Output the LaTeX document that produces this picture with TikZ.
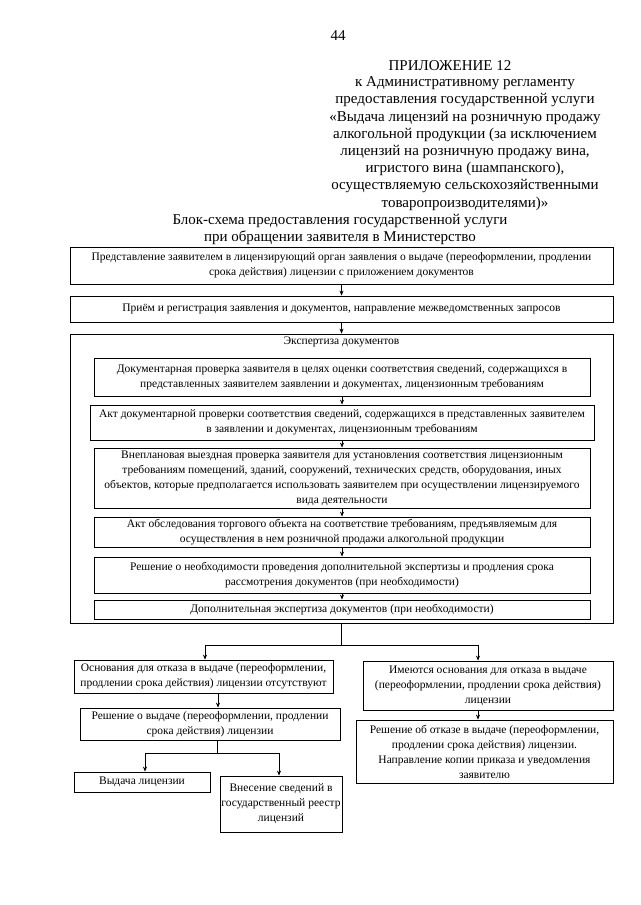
\documentclass[tikz,border=0pt]{standalone}
\usepackage{fontspec}
\setmainfont{Liberation Serif}
\usetikzlibrary{arrows.meta}
\begin{document}
\begin{tikzpicture}[x=1pt,y=-1pt,
  box/.style={draw,line width=0.8pt,inner sep=0pt,align=center,font=\fontsize{11.5}{15}\selectfont},
  arr/.style={-{Stealth[length=5pt,width=4pt]},line width=0.7pt},
  ln/.style={line width=0.7pt},
  hdr/.style={font=\fontsize{15}{17.2}\selectfont,align=center,inner sep=0pt}]
\useasboundingbox (0,0) rectangle (640,905);
\fill[white] (0,0) rectangle (640,905);
% header
\node[hdr] (pg) at (338,36) {44};
\node[hdr] (app) at (450,66) {ПРИЛОЖЕНИЕ 12};
\node[hdr,anchor=north] (reg) at (465,76.5) {к Административному регламенту\\предоставления государственной услуги\\«Выдача лицензий на розничную продажу\\алкогольной продукции (за исключением\\лицензий на розничную продажу вина,\\игристого вина (шампанского),\\осуществляемую сельскохозяйственными\\товаропроизводителями)»};
\node[hdr,anchor=north] (title) at (340,214) {Блок-схема предоставления государственной услуги\\при обращении заявителя в Министерство};
% main boxes
\node[box,minimum width=543,minimum height=37] (b1) at (341.5,265.5) {Представление заявителем в лицензирующий орган заявления о выдаче (переоформлении, продлении\\срока действия) лицензии с приложением документов};
\node[box,minimum width=543,minimum height=26] (b2) at (341.5,309) {Приём и регистрация заявления и документов, направление межведомственных запросов};
\node[box,minimum width=543,minimum height=289] (big) at (341.5,478.5) {};
\node[box,draw=none,anchor=north] (bigt) at (341.5,336.5) {Экспертиза документов};
\node[box,minimum width=496,minimum height=38] (i1) at (342,377) {Документарная проверка заявителя в целях оценки соответствия сведений, содержащихся в\\представленных заявителем заявлении и документах, лицензионным требованиям};
\node[box,minimum width=504,minimum height=35] (i2) at (342,422.5) {Акт документарной проверки соответствия сведений, содержащихся в представленных заявителем\\в заявлении и документах, лицензионным требованиям};
\node[box,minimum width=496,minimum height=60] (i3) at (342,478) {Внеплановая выездная проверка заявителя для установления соответствия лицензионным\\требованиям помещений, зданий, сооружений, технических средств, оборудования, иных\\объектов, которые предполагается использовать заявителем при осуществлении лицензируемого\\вида деятельности};
\node[box,minimum width=496,minimum height=30] (i4) at (342,532) {Акт обследования торгового объекта на соответствие требованиям, предъявляемым для\\осуществления в нем розничной продажи алкогольной продукции};
\node[box,minimum width=496,minimum height=36] (i5) at (342,575) {Решение о необходимости проведения дополнительной экспертизы и продления срока\\рассмотрения документов (при необходимости)};
\node[box,minimum width=496,minimum height=19] (i6) at (342,609.5) {Дополнительная экспертиза документов (при необходимости)};
% lower boxes
\node[box,minimum width=259,minimum height=33] (a) at (203.5,676.5) {Основания для отказа в выдаче (переоформлении,\\продлении срока действия) лицензии отсутствуют};
\node[box,minimum width=260,minimum height=32] (b) at (210,724) {Решение о выдаче (переоформлении, продлении\\срока действия) лицензии};
\node[box,minimum width=136,minimum height=20] (c) at (142,782) {Выдача лицензии};
\node[box,minimum width=122,minimum height=56] (d) at (281,804) {Внесение сведений в\\государственный реестр\\лицензий};
\node[box,minimum width=250,minimum height=49] (e) at (488,685.5) {Имеются основания для отказа в выдаче\\(переоформлении, продлении срока действия)\\лицензии};
\node[box,minimum width=257,minimum height=63] (f) at (484.5,751.5) {Решение об отказе в выдаче (переоформлении,\\продлении срока действия) лицензии.\\Направление копии приказа и уведомления\\заявителю};
% connectors
\draw[arr] (b1.south) -- (b2.north);
\draw[arr] (b2.south) -- (big.north);
\draw[arr] (i1.south) -- (i2.north);
\draw[arr] (i2.south) -- (i3.north);
\draw[arr] (i3.south) -- (i4.north);
\draw[arr] (i4.south) -- (i5.north);
\draw[arr] (i5.south) -- (i6.north);
\coordinate (s1) at (big.south |- 0,645);
\draw[ln] (big.south) -- (s1);
\draw[arr] (s1) -| (a.north -| 205,0);
\draw[arr] (s1) -| (e.north -| 478,0);
\draw[arr] (a.south -| 218,0) -- (b.north -| 218,0);
\coordinate (s2) at (217,753);
\draw[ln] (b.south -| 217,0) -- (s2);
\draw[arr] (s2) -| (c.north -| 145,0);
\draw[arr] (s2) -| (d.north -| 279,0);
\draw[arr] (e.south -| 478,0) -- (f.north -| 478,0);
\end{tikzpicture}
\end{document}
